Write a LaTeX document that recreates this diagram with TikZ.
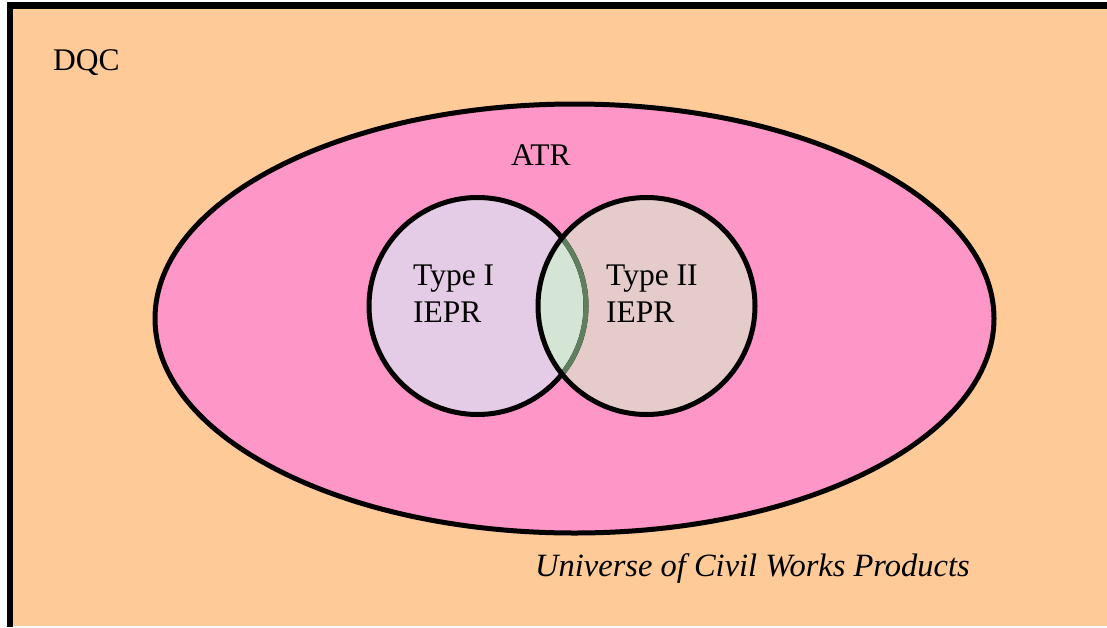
\documentclass[tikz,border=0pt]{standalone}
\usepackage{fontspec}
\setmainfont{Liberation Serif}
\definecolor{bgorange}{HTML}{FECA98}
\definecolor{atrpink}{HTML}{FE96C8}
\definecolor{typeone}{HTML}{E5CCE6}
\definecolor{typetwo}{HTML}{E6CBCB}
\definecolor{overlap}{HTML}{D5E5D5}
\definecolor{overlapedge}{HTML}{5F7F5F}
\tikzset{
  lbl/.style={anchor=base west, inner sep=0pt, font=\fontsize{31.5}{36}\selectfont},
  setline/.style={line width=5pt, draw=black},
}
\begin{document}
\begin{tikzpicture}[x=1pt,y=-1pt]
\useasboundingbox (0,0) rectangle (1107,627);
\fill[white] (0,0) rectangle (1107,627);
\fill[bgorange] (13,9) rectangle (1107,626);
\draw[line width=7pt] (7,5.5) -- (1107,5.5);
\draw[line width=6pt] (10,2) -- (10,627);
% ATR ellipse
\draw[setline, fill=atrpink] (574.5,318.5) ellipse [x radius=419.5, y radius=214.5];
% Type I and Type II circles
\coordinate (c1) at (477.5,306);
\coordinate (c2) at (646.5,306);
\fill[typeone] (c1) circle [radius=108.5];
\fill[typetwo] (c2) circle [radius=108.5];
\begin{scope}
  \clip (c1) circle [radius=108.5];
  \fill[overlap] (c2) circle [radius=108.5];
\end{scope}
\draw[setline] (c1) circle [radius=108.5];
\begin{scope}
  \clip (c2) circle [radius=106];
  \draw[setline, draw=overlapedge] (c1) circle [radius=108.5];
\end{scope}
\draw[setline] (c2) circle [radius=108.5];
% labels
\node[lbl] (dqc) at (53,70) {DQC};
\node[lbl] (atr) at (511,165) {ATR};
\node[lbl] (t1a) at (413,285) {Type I};
\node[lbl] (t1b) at (413,322) {IEPR};
\node[lbl] (t2a) at (606,285) {Type II};
\node[lbl] (t2b) at (606,322) {IEPR};
\node[lbl, font=\fontsize{32.5}{36}\selectfont\itshape] (univ) at (535,576) {Universe of Civil Works Products};
\end{tikzpicture}
\end{document}
